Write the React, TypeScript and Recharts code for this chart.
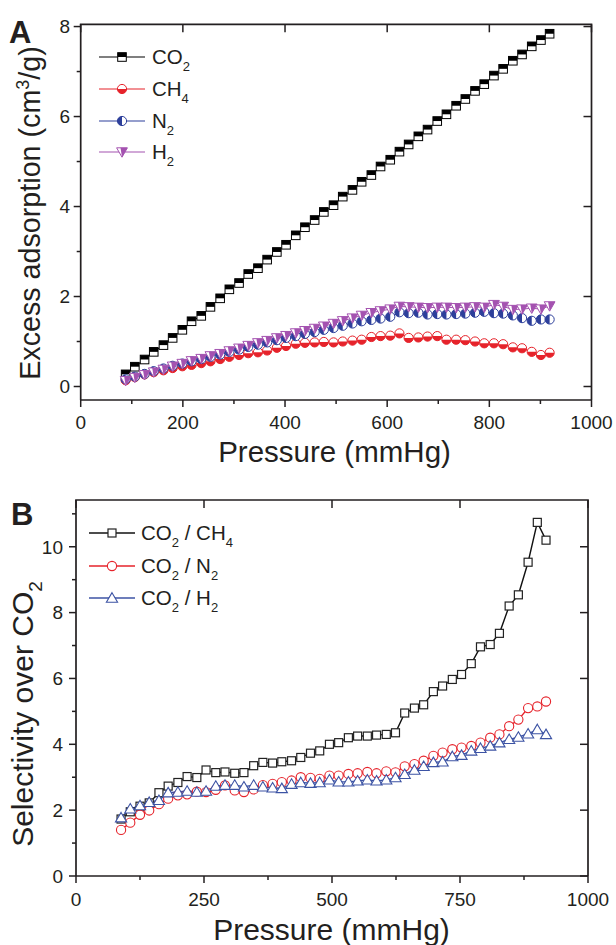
import React from 'react';
import { LineChart, Line, XAxis, YAxis, Legend } from 'recharts';

const FONT = '"Liberation Sans", Arial, Helvetica, sans-serif';
const INK = '#231f20';
const RED = '#e6232b';
const BLUE_A = '#2d3f9b';
const PURPLE = '#a452b0';
const BLUE_B = '#3c53a4';

// ---------- data ----------
const pressure = [88, 106, 125, 143, 162, 180, 199, 217, 236, 254, 273, 291, 310, 328, 347, 365, 384, 402, 421, 439, 458, 476, 495, 513, 532, 550, 569, 587, 606, 624, 642, 661, 679, 698, 716, 735, 753, 772, 790, 809, 827, 846, 864, 883, 901, 918];

const co2Ads = [0.27, 0.44, 0.60, 0.77, 0.92, 1.08, 1.26, 1.45, 1.57, 1.77, 1.96, 2.16, 2.30, 2.50, 2.63, 2.82, 2.99, 3.15, 3.36, 3.54, 3.70, 3.88, 4.03, 4.22, 4.37, 4.55, 4.70, 4.89, 5.04, 5.22, 5.38, 5.56, 5.71, 5.90, 6.05, 6.24, 6.39, 6.57, 6.72, 6.91, 7.06, 7.24, 7.38, 7.56, 7.70, 7.84];
const ch4Ads = [0.14, 0.21, 0.27, 0.32, 0.36, 0.41, 0.45, 0.48, 0.52, 0.56, 0.61, 0.66, 0.70, 0.74, 0.76, 0.80, 0.86, 0.90, 0.95, 0.97, 0.98, 0.99, 0.98, 1.00, 1.02, 1.04, 1.10, 1.12, 1.13, 1.18, 1.08, 1.09, 1.11, 1.12, 1.04, 1.04, 1.03, 1.00, 0.96, 0.96, 0.94, 0.87, 0.85, 0.77, 0.70, 0.75];
const n2Ads = [0.16, 0.22, 0.28, 0.34, 0.40, 0.46, 0.51, 0.56, 0.61, 0.66, 0.71, 0.77, 0.82, 0.88, 0.93, 0.98, 1.03, 1.08, 1.12, 1.17, 1.21, 1.26, 1.30, 1.35, 1.40, 1.45, 1.48, 1.51, 1.55, 1.65, 1.63, 1.64, 1.60, 1.61, 1.60, 1.61, 1.62, 1.64, 1.66, 1.63, 1.62, 1.58, 1.52, 1.46, 1.49, 1.49];
const h2Ads = [0.13, 0.20, 0.26, 0.32, 0.38, 0.45, 0.51, 0.57, 0.62, 0.68, 0.73, 0.79, 0.85, 0.91, 0.97, 1.02, 1.08, 1.13, 1.19, 1.24, 1.29, 1.34, 1.40, 1.46, 1.52, 1.58, 1.64, 1.68, 1.72, 1.78, 1.77, 1.76, 1.75, 1.76, 1.76, 1.75, 1.76, 1.77, 1.76, 1.82, 1.78, 1.71, 1.72, 1.74, 1.72, 1.79];

const selCH4 = [1.73, 1.95, 2.12, 2.22, 2.53, 2.73, 2.84, 3.02, 2.99, 3.22, 3.14, 3.16, 3.12, 3.14, 3.35, 3.45, 3.43, 3.47, 3.50, 3.60, 3.73, 3.80, 4.00, 4.05, 4.20, 4.25, 4.25, 4.28, 4.30, 4.35, 4.95, 5.10, 5.20, 5.60, 5.77, 5.97, 6.12, 6.45, 6.96, 7.03, 7.37, 8.20, 8.54, 9.53, 10.74, 10.20];
const selN2 = [1.40, 1.62, 1.86, 1.99, 2.18, 2.35, 2.45, 2.48, 2.56, 2.55, 2.62, 2.75, 2.60, 2.55, 2.63, 2.76, 2.80, 2.85, 2.90, 3.00, 2.98, 2.95, 3.05, 3.05, 3.10, 3.12, 3.16, 3.12, 3.18, 3.15, 3.33, 3.40, 3.50, 3.65, 3.75, 3.85, 3.90, 3.95, 4.05, 4.20, 4.30, 4.55, 4.75, 5.10, 5.15, 5.30];
const selH2 = [1.77, 2.04, 2.14, 2.24, 2.30, 2.53, 2.55, 2.58, 2.55, 2.58, 2.73, 2.76, 2.76, 2.71, 2.76, 2.71, 2.68, 2.66, 2.79, 2.84, 2.82, 2.84, 2.92, 2.86, 2.86, 2.89, 2.92, 2.89, 2.92, 2.99, 3.09, 3.22, 3.33, 3.45, 3.47, 3.63, 3.67, 3.80, 3.88, 3.95, 4.05, 4.15, 4.22, 4.32, 4.45, 4.30];

const legendA = ['CO_2', 'CH_4', 'N_2', 'H_2'];
const legendB = ['CO_2 / CH_4', 'CO_2 / N_2', 'CO_2 / H_2'];

const xDomainA = [0, 1000];
const yDomainA = [-0.3, 8.05];
const xDomainB = [0, 1000];
const yDomainB = [0, 11.42];
const xTicksA = [0, 100, 200, 300, 400, 500, 600, 700, 800, 900, 1000];
const xMajorA = [0, 200, 400, 600, 800, 1000];
const yTicksA = [0, 1, 2, 3, 4, 5, 6, 7, 8];
const yMajorA = [0, 2, 4, 6, 8];
const xTicksB = [0, 125, 250, 375, 500, 625, 750, 875, 1000];
const xMajorB = [0, 250, 500, 750, 1000];
const yTicksB = [0, 1, 2, 3, 4, 5, 6, 7, 8, 9, 10, 11];
const yMajorB = [0, 2, 4, 6, 8, 10];

const dataA = pressure.map((p, i) => ({ p, co2: co2Ads[i], ch4: ch4Ads[i], n2: n2Ads[i], h2: h2Ads[i] }));
const dataB = pressure.map((p, i) => ({ p, ch4: selCH4[i], n2: selN2[i], h2: selH2[i] }));

// ---------- layout (plot boxes) ----------
const W = 616;
const TOP_B = 480;
const layoutA = { h: 470, margin: { top: 24.3, right: 24.5, bottom: 20, left: 20.7 }, yAxisW: 60, xAxisH: 50 };
const layoutB = { h: 465, margin: { top: 20, right: 28, bottom: 19, left: 16 }, yAxisW: 60, xAxisH: 50 };
const plotBox = (l: typeof layoutA, offY: number) => {
  const x0 = l.margin.left + l.yAxisW;
  const y0 = l.margin.top + offY;
  const pw = W - l.margin.left - l.margin.right - l.yAxisW;
  const ph = l.h - l.margin.top - l.margin.bottom - l.xAxisH;
  return { x0, y0, pw, ph };
};

// ---------- helpers ----------
function subText(label: string, subSize: number, shift: number) {
  const parts = label.split(/(_\d)/).filter((s) => s.length > 0);
  let down = false;
  return parts.map((s, i) => {
    if (s.startsWith('_')) {
      down = true;
      return (
        <tspan key={i} fontSize={subSize} dy={shift}>
          {s.slice(1)}
        </tspan>
      );
    }
    const dy = down ? -shift : 0;
    down = false;
    return (
      <tspan key={i} dy={dy}>
        {s}
      </tspan>
    );
  });
}

const FW = 1.7;

// bottom axis tick: outward tick + label, plus mirrored inward tick on the top edge
const bottomTick = (majors: number[], labelDy: number, fs: number, ph: number) => (props: any) => {
  const { x, y, payload } = props;
  const v = payload.value;
  const major = majors.includes(v);
  const top = y - ph;
  return (
    <g>
      <line x1={x} x2={x} y1={y} y2={y + (major ? 7 : 4)} stroke={INK} strokeWidth={1.5} />
      {major && <line x1={x} x2={x} y1={top} y2={top + 8} stroke={INK} strokeWidth={1.5} />}
      {major && (
        <text x={x} y={y + labelDy} textAnchor="middle" fontSize={fs} fontFamily={FONT} fill={INK}>
          {v}
        </text>
      )}
    </g>
  );
};

// left axis tick: outward tick + label, plus mirrored inward tick on the right edge
const leftTick = (majors: number[], gap: number, fs: number, pw: number) => (props: any) => {
  const { x, y, payload } = props;
  const major = majors.includes(payload.value);
  const right = x + pw;
  return (
    <g>
      <line x1={x} x2={x - (major ? 7 : 4)} y1={y} y2={y} stroke={INK} strokeWidth={1.5} />
      {major && <line x1={right} x2={right - 8} y1={y} y2={y} stroke={INK} strokeWidth={1.5} />}
      {major && (
        <text x={x - gap} y={y + fs * 0.36} textAnchor="end" fontSize={fs} fontFamily={FONT} fill={INK}>
          {payload.value}
        </text>
      )}
    </g>
  );
};

// ---------- markers ----------
function HalfSquare({ cx, cy }: { cx: number; cy: number }) {
  const s = 8.6;
  return (
    <g>
      <rect x={cx - s / 2} y={cy - s / 2} width={s} height={s} fill="#fff" stroke="#000" strokeWidth={1} />
      <rect x={cx - s / 2} y={cy - s / 2} width={s} height={s / 2} fill="#000" />
    </g>
  );
}
function HalfCircleBottom({ cx, cy, color }: { cx: number; cy: number; color: string }) {
  const r = 4.6;
  return (
    <g>
      <circle cx={cx} cy={cy} r={r} fill="#fff" stroke={color} strokeWidth={1} />
      <path d={`M${cx - r},${cy} A${r},${r} 0 0 0 ${cx + r},${cy} Z`} fill={color} />
    </g>
  );
}
function HalfCircleLeft({ cx, cy, color }: { cx: number; cy: number; color: string }) {
  const r = 4.6;
  return (
    <g>
      <circle cx={cx} cy={cy} r={r} fill="#fff" stroke={color} strokeWidth={1} />
      <path d={`M${cx},${cy - r} A${r},${r} 0 0 0 ${cx},${cy + r} Z`} fill={color} />
    </g>
  );
}
function HalfTriDown({ cx, cy, color }: { cx: number; cy: number; color: string }) {
  const w = 5.4;
  return (
    <g>
      <polygon points={`${cx - w},${cy - 4.2} ${cx + w},${cy - 4.2} ${cx},${cy + 5.2}`} fill="#fff" stroke={color} strokeWidth={1} />
      <polygon points={`${cx - 1.5},${cy - 4.2} ${cx + w},${cy - 4.2} ${cx},${cy + 5.2}`} fill={color} />
    </g>
  );
}
function OpenSquare({ cx, cy }: { cx: number; cy: number }) {
  const s = 8;
  return <rect x={cx - s / 2} y={cy - s / 2} width={s} height={s} fill="#fff" stroke="#222" strokeWidth={1.2} />;
}
function OpenCircle({ cx, cy }: { cx: number; cy: number }) {
  return <circle cx={cx} cy={cy} r={4.6} fill="#fff" stroke={RED} strokeWidth={1.1} />;
}
function OpenTriUp({ cx, cy }: { cx: number; cy: number }) {
  return <polygon points={`${cx},${cy - 5.3} ${cx + 5.6},${cy + 4.2} ${cx - 5.6},${cy + 4.2}`} fill="#fff" stroke={BLUE_B} strokeWidth={1.1} />;
}

const markersA = [
  (cx: number, cy: number) => <HalfSquare cx={cx} cy={cy} />,
  (cx: number, cy: number) => <HalfCircleBottom cx={cx} cy={cy} color={RED} />,
  (cx: number, cy: number) => <HalfCircleLeft cx={cx} cy={cy} color={BLUE_A} />,
  (cx: number, cy: number) => <HalfTriDown cx={cx} cy={cy} color={PURPLE} />,
];
const colorsA = ['#000', RED, BLUE_A, PURPLE];
const markersB = [
  (cx: number, cy: number) => <OpenSquare cx={cx} cy={cy} />,
  (cx: number, cy: number) => <OpenCircle cx={cx} cy={cy} />,
  (cx: number, cy: number) => <OpenTriUp cx={cx} cy={cy} />,
];
const colorsB = ['#111', RED, BLUE_B];

const dotFn = (m: (cx: number, cy: number) => React.ReactNode) => (props: any) => (
  <g key={`d-${props.index}`}>{props.cx != null && props.cy != null ? m(props.cx, props.cy) : null}</g>
);

// ---------- legends ----------
function LegendA() {
  const rows = [17, 49, 81, 112];
  return (
    <svg width={150} height={130} style={{ overflow: 'visible' }}>
      {legendA.map((lab, i) => (
        <g key={lab}>
          <line x1={9} x2={55} y1={rows[i]} y2={rows[i]} stroke={colorsA[i]} strokeWidth={1.1} />
          {markersA[i](32, rows[i])}
          <text x={62} y={rows[i] + 7.2} fontSize={20.5} fontFamily={FONT} fill={INK}>
            {subText(lab, 13, 6.5)}
          </text>
        </g>
      ))}
    </svg>
  );
}
function LegendB() {
  const rows = [13, 46, 78];
  return (
    <svg width={200} height={100} style={{ overflow: 'visible' }}>
      {legendB.map((lab, i) => (
        <g key={lab}>
          <line x1={9} x2={55} y1={rows[i]} y2={rows[i]} stroke={colorsB[i]} strokeWidth={1.5} />
          {markersB[i](32, rows[i])}
          <text x={61} y={rows[i] + 7.2} fontSize={20.5} fontFamily={FONT} fill={INK}>
            {subText(lab, 13, 6.5)}
          </text>
        </g>
      ))}
    </svg>
  );
}

const axisLine = { stroke: INK, strokeWidth: FW };

function FrameTR({ b }: { b: { x0: number; y0: number; pw: number; ph: number } }) {
  const { x0, y0, pw, ph } = b;
  return (
    <path d={`M${x0 - FW / 2},${y0} H${x0 + pw} V${y0 + ph}`} fill="none" stroke={INK} strokeWidth={FW} />
  );
}

export default function App() {
  const bA = plotBox(layoutA, 0);
  const bB = plotBox(layoutB, TOP_B);
  return (
    <div style={{ position: 'absolute', left: 0, top: 0, width: 616, height: 945, background: '#fff', fontFamily: FONT }}>
      {/* Panel A */}
      <div style={{ position: 'absolute', left: 0, top: 0 }}>
        <LineChart width={W} height={layoutA.h} data={dataA} margin={layoutA.margin}>
          <XAxis xAxisId="b" dataKey="p" type="number" domain={xDomainA} allowDataOverflow ticks={xTicksA} interval={0} tickSize={0} tickMargin={0} tickLine={false} axisLine={axisLine} height={layoutA.xAxisH} tick={bottomTick(xMajorA, 29, 19, bA.ph)} />
          <YAxis yAxisId="l" type="number" domain={yDomainA} allowDataOverflow ticks={yTicksA} interval={0} tickSize={0} tickMargin={0} tickLine={false} axisLine={axisLine} width={layoutA.yAxisW} tick={leftTick(yMajorA, 10.5, 19, bA.pw)} />
          <Legend layout="horizontal" verticalAlign="middle" align="center" wrapperStyle={{ left: 90, top: 40, width: 150, height: 130 }} content={() => <LegendA />} />
          {(['co2', 'ch4', 'n2', 'h2'] as const).map((k, i) => (
            <Line key={k} xAxisId="b" yAxisId="l" dataKey={k} stroke={colorsA[i]} strokeWidth={1} dot={dotFn(markersA[i])} activeDot={false} isAnimationActive={false} />
          ))}
        </LineChart>
      </div>

      {/* Panel B */}
      <div style={{ position: 'absolute', left: 0, top: TOP_B }}>
        <LineChart width={W} height={layoutB.h} data={dataB} margin={layoutB.margin}>
          <XAxis xAxisId="b" dataKey="p" type="number" domain={xDomainB} allowDataOverflow ticks={xTicksB} interval={0} tickSize={0} tickMargin={0} tickLine={false} axisLine={axisLine} height={layoutB.xAxisH} tick={bottomTick(xMajorB, 30, 19, bB.ph)} />
          <YAxis yAxisId="l" type="number" domain={yDomainB} allowDataOverflow ticks={yTicksB} interval={0} tickSize={0} tickMargin={0} tickLine={false} axisLine={axisLine} width={layoutB.yAxisW} tick={leftTick(yMajorB, 13, 19, bB.pw)} />
          <Legend layout="horizontal" verticalAlign="middle" align="center" wrapperStyle={{ left: 80, top: 40, width: 200, height: 100 }} content={() => <LegendB />} />
          {(['ch4', 'n2', 'h2'] as const).map((k, i) => (
            <Line key={k} xAxisId="b" yAxisId="l" dataKey={k} stroke={colorsB[i]} strokeWidth={1.4} dot={dotFn(markersB[i])} activeDot={false} isAnimationActive={false} />
          ))}
        </LineChart>
      </div>

      {/* frame edges + titles */}
      <svg width={616} height={945} style={{ position: 'absolute', left: 0, top: 0, pointerEvents: 'none' }}>
        <FrameTR b={bA} />
        <FrameTR b={bB} />
        <text x={9} y={43} fontSize={31} fontWeight="bold" fontFamily={FONT} fill={INK}>A</text>
        <text x={11} y={525} fontSize={31} fontWeight="bold" fontFamily={FONT} fill={INK}>B</text>
        <text x={334.5} y={462} textAnchor="middle" fontSize={29.5} fontFamily={FONT} fill={INK}>Pressure (mmHg)</text>
        <text x={331.5} y={940} textAnchor="middle" fontSize={30} fontFamily={FONT} fill={INK}>Pressure (mmHg)</text>
        <text transform="translate(40,213) rotate(-90)" textAnchor="middle" fontSize={28.7} fontFamily={FONT} fill={INK}>
          <tspan>Excess adsorption (cm</tspan>
          <tspan fontSize={18} dy={-11}>3</tspan>
          <tspan dy={11}>/g)</tspan>
        </text>
        <text transform="translate(33,714) rotate(-90)" textAnchor="middle" fontSize={30} fontFamily={FONT} fill={INK}>
          <tspan>Selectivity over CO</tspan>
          <tspan fontSize={19} dy={9}>2</tspan>
        </text>
      </svg>
    </div>
  );
}
